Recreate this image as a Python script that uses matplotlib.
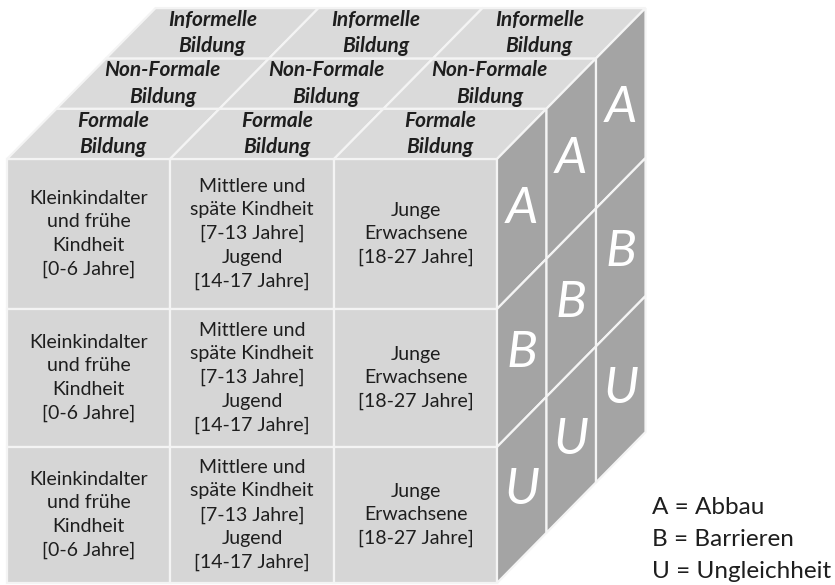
import matplotlib
matplotlib.use('Agg')
import matplotlib.pyplot as plt
from matplotlib.patches import Polygon

plt.rcParams['font.family'] = ['Lato', 'DejaVu Sans']

# info given

age_groups = [
    "Kleinkindalter\nund frühe\nKindheit\n[0-6 Jahre]",
    "Mittlere und\nspäte Kindheit\n[7-13 Jahre]\nJugend\n[14-17 Jahre]",
    "Junge\nErwachsene\n[18-27 Jahre]",
]
bildung = ["Formale\nBildung", "Non-Formale\nBildung", "Informelle\nBildung"]
dimensions = ["A", "B", "U"]
legend_labels = ["A = Abbau", "B = Barrieren", "U = Ungleichheit"]

# cube geometry (pixels)
col_edges = [7, 170, 334, 497]
row_edges = [159, 309, 447, 583]
dx, dy = 49.5, -50.3

front_col = '#d6d6d6'
top_col = '#dadada'
side_col = '#a4a4a4'
line_col = '#f4f4f4'

fig = plt.figure(figsize=(8.35, 5.85), dpi=100)
ax = fig.add_axes([0, 0, 1, 1])
ax.set_xlim(0, 835)
ax.set_ylim(585, 0)
ax.axis('off')


def cell(pts, fc):
    ax.add_patch(Polygon(pts, closed=True, facecolor=fc, edgecolor=line_col, linewidth=1.6))


# front face
for r in range(3):
    for c in range(3):
        x0, x1 = col_edges[c], col_edges[c + 1]
        y0, y1 = row_edges[r], row_edges[r + 1]
        cell([(x0, y0), (x1, y0), (x1, y1), (x0, y1)], front_col)
        ax.text((x0 + x1) / 2, (y0 + y1) / 2, age_groups[c], ha='center', va='center',
                fontsize=14, color='#1e1e1e', linespacing=1.48)

# top face
y_top = row_edges[0]
for d in range(3):
    for c in range(3):
        x0, x1 = col_edges[c], col_edges[c + 1]
        pts = [(x0 + d * dx, y_top + d * dy), (x1 + d * dx, y_top + d * dy),
               (x1 + (d + 1) * dx, y_top + (d + 1) * dy), (x0 + (d + 1) * dx, y_top + (d + 1) * dy)]
        cell(pts, top_col)
        cx = (x0 + x1) / 2 + (d + 0.5) * dx
        cy = y_top + (d + 0.5) * dy
        ax.text(cx, cy, bildung[d], ha='center', va='center', fontsize=15,
                fontweight='bold', fontstyle='italic', color='#1e1e1e', linespacing=1.4)

# side face
x_side = col_edges[-1]
for d in range(3):
    for r in range(3):
        y0, y1 = row_edges[r], row_edges[r + 1]
        pts = [(x_side + d * dx, y0 + d * dy), (x_side + (d + 1) * dx, y0 + (d + 1) * dy),
               (x_side + (d + 1) * dx, y1 + (d + 1) * dy), (x_side + d * dx, y1 + d * dy)]
        cell(pts, side_col)
        cx = x_side + (d + 0.5) * dx
        cy = (y0 + y1) / 2 + (d + 0.5) * dy
        ax.text(cx, cy, dimensions[r], ha='center', va='center', fontsize=37,
                fontstyle='italic', color='white')

# legend
for i, lab in enumerate(legend_labels):
    ax.text(652, 507 + i * 32, lab, ha='left', va='center', fontsize=17.5, color='#1e1e1e')

fig.savefig('out.png', dpi=100)
